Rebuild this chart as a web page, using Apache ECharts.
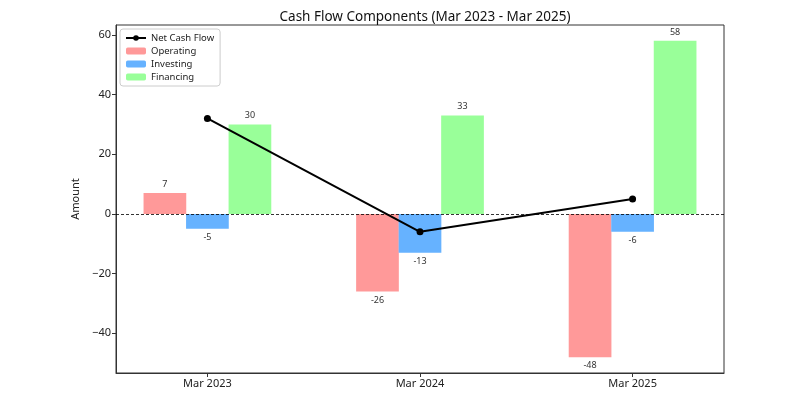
<!DOCTYPE html>
<html>
<head>
<meta charset="utf-8">
<script src="https://cdn.jsdelivr.net/npm/echarts@6/dist/echarts.min.js"></script>
<style>
  html, body { margin: 0; padding: 0; background: #fff; }
  #chart { width: 800px; height: 400px; }
</style>
</head>
<body>
<div id="chart"></div>
<script>
var periods = ['Mar 2023', 'Mar 2024', 'Mar 2025'];
var operating = [7, -26, -48];
var investing = [-5, -13, -6];
var financing = [30, 33, 58];
var netCashFlow = [32, -6, 5];
var yTicks = [-40, -20, 0, 20, 40, 60];

var barW = 0.2; // bar width in x units, like the grouped bars
var font = 'Noto Sans';

function place(values, shift) {
  return values.map(function (v, i) { return [i + shift, v]; });
}

function barSeries(name, values, shift, color) {
  return {
    name: name,
    type: 'bar',
    barWidth: 42.7,
    barGap: '-100%',
    itemStyle: { color: color },
    label: {
      show: true,
      formatter: function (p) { return Math.round(p.value[1]); },
      fontSize: 9,
      fontFamily: font,
      color: '#333',
      distance: 4
    },
    data: place(values, shift).map(function (d) {
      return {
        value: d,
        label: { position: d[1] >= 0 ? 'top' : 'bottom' }
      };
    })
  };
}

var chartDom = document.getElementById('chart');
var myChart = echarts.init(chartDom);
var option = {
  animation: false,
  textStyle: { fontFamily: font },
  title: {
    text: 'Cash Flow Components (Mar 2023 - Mar 2025)',
    left: 420,
    textAlign: 'center',
    top: 5,
    textStyle: { fontSize: 13.5, fontWeight: 'normal', color: '#111', fontFamily: font }
  },
  legend: {
    data: ['Net Cash Flow', 'Operating', 'Investing', 'Financing'],
    orient: 'vertical',
    left: 120,
    top: 29,
    itemWidth: 20,
    itemHeight: 7,
    itemGap: 3,
    padding: [4, 6, 4, 5],
    backgroundColor: '#fff',
    borderColor: '#ccc',
    borderWidth: 1,
    borderRadius: 3,
    textStyle: { fontSize: 9.5, color: '#222', fontFamily: font }
  },
  grid: {
    left: 116,
    right: 76,
    top: 25,
    bottom: 27,
    show: true,
    borderColor: '#333',
    borderWidth: 1
  },
  xAxis: {
    type: 'value',
    min: -0.43,
    max: 2.43,
    splitLine: { show: false },
    axisLine: { show: true, onZero: false, lineStyle: { color: '#333' } },
    axisTick: { show: true, length: 4, customValues: [0, 1, 2], lineStyle: { color: '#333' } },
    axisLabel: {
      customValues: [0, 1, 2],
      formatter: function (v) { return periods[Math.round(v)]; },
      fontSize: 11,
      color: '#222',
      margin: 5
    }
  },
  yAxis: {
    type: 'value',
    min: -53.3,
    max: 63.3,
    name: 'Amount',
    nameLocation: 'middle',
    nameGap: 32,
    nameTextStyle: { fontSize: 11, color: '#222' },
    splitLine: { show: false },
    axisLine: { show: true, onZero: false, lineStyle: { color: '#333' } },
    axisTick: { show: true, length: 4, customValues: yTicks, lineStyle: { color: '#333' } },
    axisLabel: {
      customValues: yTicks,
      fontSize: 11,
      color: '#222',
      margin: 5,
      formatter: function (v) { return v < 0 ? '\u2212' + (-v) : String(v); }
    }
  },
  series: [
    barSeries('Operating', operating, -barW, '#FF9999'),
    barSeries('Investing', investing, 0, '#66B2FF'),
    barSeries('Financing', financing, barW, '#99FF99'),
    {
      name: 'Net Cash Flow',
      type: 'line',
      z: 5,
      symbol: 'circle',
      symbolSize: 7,
      lineStyle: { color: '#000', width: 2 },
      itemStyle: { color: '#000' },
      data: place(netCashFlow, 0),
      markLine: {
        silent: true,
        symbol: ['none', 'none'],
        label: { show: false },
        lineStyle: { color: '#000', type: [3, 2], width: 0.8 },
        data: [{ yAxis: 0 }]
      }
    }
  ]
};
myChart.setOption(option);
</script>
</body>
</html>
